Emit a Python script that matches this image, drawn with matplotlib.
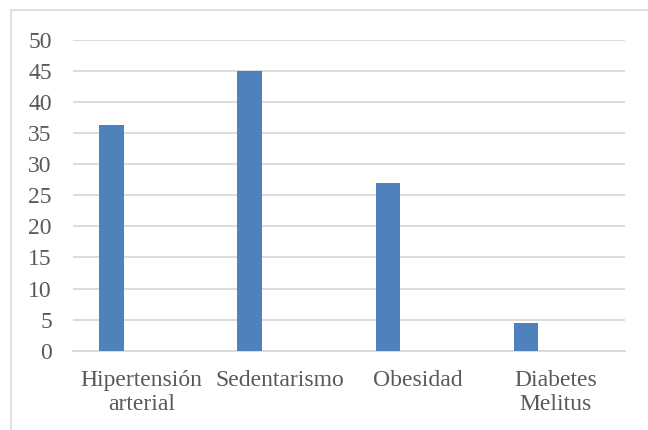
import matplotlib
matplotlib.use("Agg")
import matplotlib.pyplot as plt
import numpy as np
from matplotlib.lines import Line2D

categories = ["Hipertensión\narterial", "Sedentarismo", "Obesidad", "Diabetes\nMelitus"]
values = [36.4, 45, 27, 4.5]
yticks = [0, 5, 10, 15, 20, 25, 30, 35, 40, 45, 50]

plt.rcParams['font.family'] = ['Liberation Serif', 'DejaVu Serif']
text_color = '#595959'
grid_color = '#d9d9d9'

fig = plt.figure(figsize=(6.48, 4.30), dpi=100)
fig.patch.set_facecolor('white')
# outer chart frame (only top and left edges visible in the crop)
fx, fy = 11/648, 1 - 10/430
fig.lines.append(Line2D([fx, 1.0], [fy, fy], transform=fig.transFigure,
                        color=grid_color, linewidth=1.2))
fig.lines.append(Line2D([fx, fx], [0.0, fy], transform=fig.transFigure,
                        color=grid_color, linewidth=1.2))

ax = fig.add_axes([72.7/648, 1-350.7/430, (625-72.7)/648, (350.7-40)/430])
x = np.arange(len(categories))
ax.bar(x - 0.217, values, width=0.179, color='#4f81bd', zorder=3)

ax.set_xlim(-0.5, len(categories) - 0.5)
ax.set_ylim(0, 50)
ax.set_yticks(yticks)
ax.set_yticklabels([str(t) for t in yticks])
ax.set_xticks(x)
ax.set_xticklabels(categories, linespacing=1.2)
ax.yaxis.grid(True, color=grid_color, linewidth=1.3, zorder=0)
ax.set_axisbelow(True)
for s in ['top', 'right', 'left']:
    ax.spines[s].set_visible(False)
ax.spines['bottom'].set_color(grid_color)
ax.spines['bottom'].set_linewidth(1.3)
ax.tick_params(axis='both', length=0, labelsize=17, colors=text_color)
ax.tick_params(axis='y', pad=15)
ax.tick_params(axis='x', pad=14)

fig.savefig('out.png', dpi=100)
